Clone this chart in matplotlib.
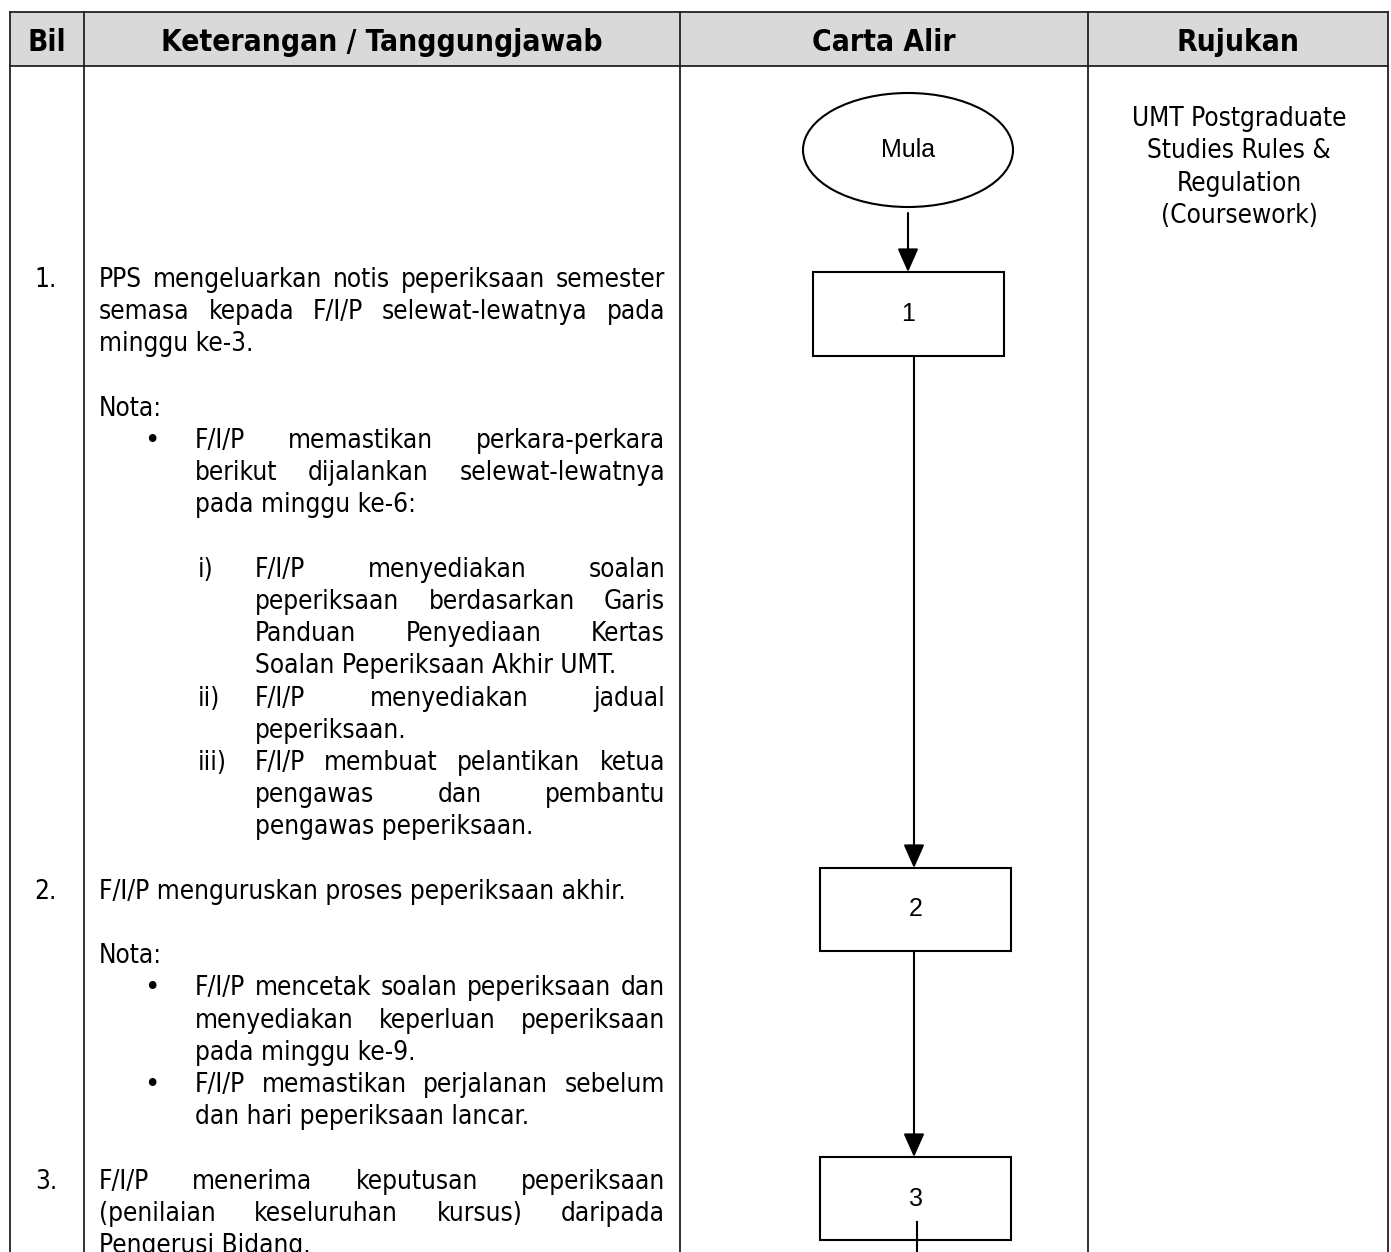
import matplotlib
matplotlib.use("Agg")
import matplotlib.pyplot as plt
from matplotlib import font_manager
from matplotlib.patches import Rectangle, Ellipse

# ---------------- content ----------------
headers = ["Bil", "Keterangan / Tanggungjawab", "Carta Alir", "Rujukan"]
row_numbers = ["1.", "2.", "3."]
row_number_lines = [0, 19, 28]
flow_labels = ["Mula", "1", "2", "3"]
rujukan_lines = ["UMT Postgraduate", "Studies Rules &", "Regulation", "(Coursework)"]

# (line index, indent level, text, justified)
body_lines = [
    (0, "p", "PPS mengeluarkan notis peperiksaan semester", True),
    (1, "p", "semasa kepada F/I/P selewat-lewatnya pada", True),
    (2, "p", "minggu ke-3.", False),
    (4, "p", "Nota:", False),
    (5, "b", "F/I/P memastikan perkara-perkara", True),
    (6, "b", "berikut dijalankan selewat-lewatnya", True),
    (7, "b", "pada minggu ke-6:", False),
    (9, "s", "F/I/P menyediakan soalan", True),
    (10, "s", "peperiksaan berdasarkan Garis", True),
    (11, "s", "Panduan Penyediaan Kertas", True),
    (12, "s", "Soalan Peperiksaan Akhir UMT.", False),
    (13, "s", "F/I/P menyediakan jadual", True),
    (14, "s", "peperiksaan.", False),
    (15, "s", "F/I/P membuat pelantikan ketua", True),
    (16, "s", "pengawas dan pembantu", True),
    (17, "s", "pengawas peperiksaan.", False),
    (19, "p", "F/I/P menguruskan proses peperiksaan akhir.", False),
    (21, "p", "Nota:", False),
    (22, "b", "F/I/P mencetak soalan peperiksaan dan", True),
    (23, "b", "menyediakan keperluan peperiksaan", True),
    (24, "b", "pada minggu ke-9.", False),
    (25, "b", "F/I/P memastikan perjalanan sebelum", True),
    (26, "b", "dan hari peperiksaan lancar.", False),
    (28, "p", "F/I/P menerima keputusan peperiksaan", True),
    (29, "p", "(penilaian keseluruhan kursus) daripada", True),
    (30, "p", "Pengerusi Bidang.", False),
]
bullet_lines = [5, 22, 25]
sub_labels = ["i)", "ii)", "iii)"]
sub_label_lines = [9, 13, 15]

# ---------------- layout (pixels) ----------------
W, H, DPI = 1391, 1252, 100
col_x = [10, 84, 680, 1088, 1388]
top_y, head_y = 12, 66
y0, LH = 278, 32.2
indent_x = {"p": 99, "b": 195, "s": 255}
right_x = 665
num_right = 57
bullet_x = 152
sub_x = 198

fig = plt.figure(figsize=(W / DPI, H / DPI), dpi=DPI)
ax = fig.add_axes([0, 0, 1, 1])
ax.set_xlim(0, W)
ax.set_ylim(H, 0)
ax.axis("off")
renderer = fig.canvas.get_renderer()

fm = font_manager.fontManager
has_cond = any(f.name == "DejaVu Sans" and str(f.stretch) in ("condensed", "semi-condensed")
               for f in fm.ttflist)
BODY = dict(family="DejaVu Sans", fontstretch="condensed" if has_cond else "normal")


def measure(s, **kw):
    t = ax.text(0, 0, s, **kw)
    bb = t.get_window_extent(renderer=renderer)
    t.remove()
    return bb.width


# fit body font size to reference width
ref = "F/I/P menguruskan proses peperiksaan akhir."
w10 = measure(ref, fontsize=10, **BODY)
body_fs = min(19.0, 10 * 528 / w10)
hw10 = measure(headers[1], fontsize=10, fontweight="bold", **BODY)
head_fs = min(22.0, 10 * 438 / hw10)

line_col = "#222222"
# header background
ax.add_patch(Rectangle((col_x[0], top_y), col_x[-1] - col_x[0], head_y - top_y,
                       facecolor="#D9D9D9", edgecolor="none", zorder=0))
# table lines
lw = 1.3
ax.plot([col_x[0], col_x[-1]], [top_y, top_y], color=line_col, lw=lw)
ax.plot([col_x[0], col_x[-1]], [head_y, head_y], color=line_col, lw=lw)
for x in col_x:
    ax.plot([x, x], [top_y, H + 5], color=line_col, lw=lw)

# header text
cap_head = 22
for i, h in enumerate(headers):
    ax.text((col_x[i] + col_x[i + 1]) / 2, 40 + cap_head / 2, h, ha="center", va="baseline",
            fontsize=head_fs, fontweight="bold", color="black", **BODY)

cap = 18
def ybase(idx):
    return y0 + idx * LH + cap / 2

# body text
for idx, lvl, txt, just in body_lines:
    x0 = indent_x[lvl]
    yb = ybase(idx)
    if just:
        words = txt.split()
        widths = [measure(w, fontsize=body_fs, **BODY) for w in words]
        gap = (right_x - x0 - sum(widths)) / (len(words) - 1)
        x = x0
        for w, wd in zip(words, widths):
            ax.text(x, yb, w, ha="left", va="baseline", fontsize=body_fs, color="black", **BODY)
            x += wd + gap
    else:
        ax.text(x0, yb, txt, ha="left", va="baseline", fontsize=body_fs, color="black", **BODY)

for lab, idx in zip(row_numbers, row_number_lines):
    ax.text(num_right, ybase(idx), lab, ha="right", va="baseline", fontsize=body_fs,
            color="black", **BODY)
for idx in bullet_lines:
    ax.text(bullet_x, ybase(idx), "\u2022", ha="center", va="baseline", fontsize=body_fs,
            color="black", family="DejaVu Sans")
for lab, idx in zip(sub_labels, sub_label_lines):
    ax.text(sub_x, ybase(idx), lab, ha="left", va="baseline", fontsize=body_fs,
            color="black", **BODY)

# rujukan
ruj_cx = (col_x[3] + col_x[4]) / 2
for i, s in enumerate(rujukan_lines):
    ax.text(ruj_cx + 1, 117 + i * 32.3 + cap / 2, s, ha="center", va="baseline",
            fontsize=body_fs, color="black", **BODY)

# ---------------- flowchart ----------------
FLOW = dict(family="Liberation Sans", fontsize=18, color="black")
flw = 1.5
ax.add_patch(Ellipse((908, 150), 210, 114, facecolor="white", edgecolor="black", lw=flw, zorder=3))
ax.text(908, 150, flow_labels[0], ha="center", va="center", zorder=4, **FLOW)

boxes = [(813, 272, 191, 84), (820, 868, 191, 83), (820, 1157, 191, 83)]
for (bx, by, bw, bh), lab in zip(boxes, flow_labels[1:]):
    ax.add_patch(Rectangle((bx, by), bw, bh, facecolor="white", edgecolor="black", lw=flw, zorder=3))
    ax.text(bx + bw / 2, by + bh / 2, lab, ha="center", va="center", zorder=4, **FLOW)

arrows = [(908, 213, 272), (914, 356, 868), (914, 951, 1157)]
for x, ya, yb in arrows:
    ax.annotate("", xy=(x, yb), xytext=(x, ya),
                arrowprops=dict(arrowstyle="-|>,head_length=0.9,head_width=0.4",
                                mutation_scale=16, lw=1.5, color="black",
                                shrinkA=0, shrinkB=0), zorder=5)
ax.plot([917, 917], [1222, H + 5], color="black", lw=1.5, zorder=5)

fig.savefig("out.png", dpi=DPI, facecolor="white")
